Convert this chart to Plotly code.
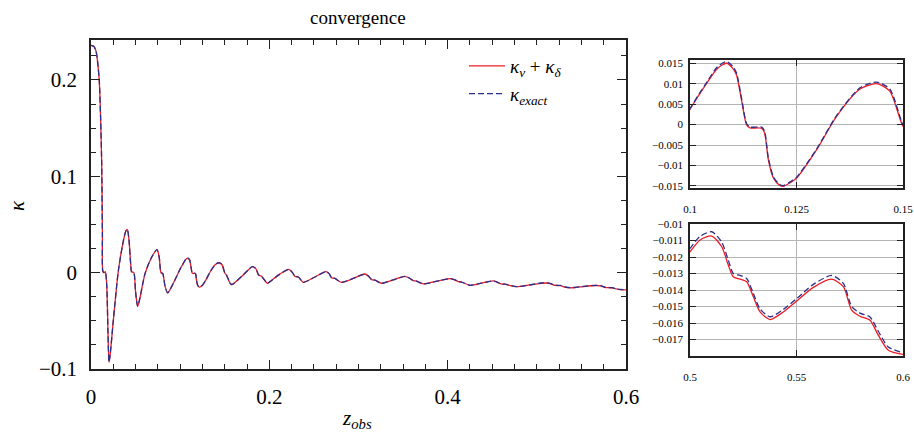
import plotly.graph_objects as go

# ---- data ----
z_obs = [
    0.000, 0.003, 0.0056, 0.0075, 0.0093, 0.0108, 0.012, 0.0128, 0.0132, 0.0145,
    0.0160, 0.0176, 0.0190, 0.0202, 0.0215, 0.025, 0.0307, 0.0363, 0.0390, 0.0407,
    0.0425, 0.0445, 0.0455, 0.0480, 0.0500, 0.0523, 0.0545, 0.0606, 0.0680, 0.0740,
    0.0765, 0.0785, 0.0805, 0.0830, 0.0860, 0.0890, 0.0960, 0.1000, 0.1039, 0.1065,
    0.1086, 0.1100, 0.1109, 0.1121, 0.1133, 0.1141, 0.1168, 0.1175, 0.1184, 0.1196,
    0.1210, 0.1219, 0.1235, 0.1250, 0.1297, 0.1344, 0.1399, 0.1438, 0.1469, 0.1500,
    0.1520, 0.1560, 0.1580, 0.1700, 0.1810, 0.1850, 0.1880, 0.1910, 0.1977, 0.2007,
    0.2110, 0.2220, 0.2260, 0.2288, 0.2325, 0.2380, 0.2500, 0.2635, 0.2670, 0.2700,
    0.2736, 0.2810, 0.2940, 0.3070, 0.3110, 0.3148, 0.3185, 0.3260, 0.3390, 0.3520,
    0.3570, 0.3615, 0.3650, 0.3727, 0.3870, 0.4026, 0.4080, 0.4120, 0.4157, 0.4250,
    0.4380, 0.4512, 0.4560, 0.4600, 0.4640, 0.4774, 0.4900, 0.5000, 0.5047, 0.5102,
    0.5149, 0.5180, 0.5203, 0.5235, 0.5266, 0.5297, 0.5329, 0.5376, 0.5438, 0.5501,
    0.5579, 0.5665, 0.5720, 0.5759, 0.5798, 0.5845, 0.5884, 0.5931, 0.6000,
]

kappa_sum = [
    0.236, 0.235, 0.230, 0.218, 0.199, 0.160, 0.113, 0.040, 0.002, 0.000,
    0.001, -0.012, -0.060, -0.093, -0.085, -0.050, 0.002, 0.033, 0.043, 0.045,
    0.035, 0.009, 0.001, 0.000, -0.020, -0.035, -0.028, -0.001, 0.016, 0.024,
    0.016, 0.000, -0.001, -0.014, -0.021, -0.017, -0.004, 0.00375, 0.0101, 0.0138,
    0.0150, 0.0138, 0.0122, 0.0060, -0.0001, -0.0008, -0.0009, -0.0020, -0.0086, -0.0131,
    -0.0148, -0.0151, -0.0142, -0.0131, -0.0062, 0.0020, 0.0087, 0.0100, 0.0082, -0.0004,
    -0.0025, -0.0110, -0.0124, -0.0030, 0.0062, 0.0040, -0.0025, -0.0035, -0.0110, -0.0093,
    -0.0020, 0.0034, 0.0000, -0.0040, -0.0045, -0.0100, -0.0050, 0.0010, -0.0010, -0.0055,
    -0.0060, -0.0100, -0.0060, -0.0014, -0.0035, -0.0073, -0.0078, -0.0110, -0.0075, -0.0038,
    -0.0055, -0.0083, -0.0088, -0.0117, -0.0090, -0.0062, -0.0075, -0.0093, -0.0097, -0.0131,
    -0.0108, -0.0086, -0.0100, -0.0117, -0.0120, -0.0145, -0.0130, -0.01168, -0.01097, -0.01073,
    -0.01138, -0.0125, -0.0132, -0.01334, -0.0135, -0.0144, -0.01533, -0.01579, -0.01533, -0.01466,
    -0.01384, -0.01334, -0.0138, -0.01522, -0.01559, -0.01583, -0.01674, -0.01765, -0.0179,
]

kappa_exact = [
    0.236, 0.235, 0.230, 0.218, 0.199, 0.160, 0.113, 0.040, 0.002, 0.000,
    0.001, -0.012, -0.060, -0.093, -0.085, -0.050, 0.002, 0.033, 0.043, 0.045,
    0.035, 0.009, 0.001, 0.000, -0.020, -0.035, -0.028, -0.001, 0.016, 0.024,
    0.016, 0.000, -0.001, -0.014, -0.021, -0.017, -0.004, 0.0039, 0.0103, 0.0142,
    0.0154, 0.0143, 0.0127, 0.0064, 0.0002, -0.0006, -0.0006, -0.0016, -0.0082, -0.0128,
    -0.0146, -0.0149, -0.0140, -0.0129, -0.0060, 0.0022, 0.0090, 0.0104, 0.0087, 0.0000,
    -0.0025, -0.0110, -0.0124, -0.0030, 0.0062, 0.0040, -0.0025, -0.0035, -0.0110, -0.0093,
    -0.0020, 0.0034, 0.0000, -0.0040, -0.0045, -0.0100, -0.0050, 0.0010, -0.0010, -0.0055,
    -0.0060, -0.0100, -0.0060, -0.0014, -0.0035, -0.0073, -0.0078, -0.0110, -0.0075, -0.0038,
    -0.0055, -0.0083, -0.0088, -0.0117, -0.0090, -0.0062, -0.0075, -0.0093, -0.0097, -0.0131,
    -0.0108, -0.0086, -0.0100, -0.0117, -0.0120, -0.0145, -0.0130, -0.01148, -0.01075, -0.01047,
    -0.01110, -0.0122, -0.0130, -0.01312, -0.0133, -0.0142, -0.01515, -0.01562, -0.01518, -0.01452,
    -0.01366, -0.01312, -0.0136, -0.01500, -0.01540, -0.01563, -0.01650, -0.01745, -0.0178,
]

main_xticks = [0, 0.2, 0.4, 0.6]
main_yticks = [-0.1, 0, 0.1, 0.2]
inset1_xticks = [0.1, 0.125, 0.15]
inset1_yticks = [-0.015, -0.01, -0.005, 0, 0.005, 0.01, 0.015]
inset1_ylabels = ["\u22120.015", "\u22120.01", "\u22120.005", "0", "0.005", "0.01", "0.015"]
inset2_xticks = [0.5, 0.55, 0.6]
inset2_yticks = [-0.017, -0.016, -0.015, -0.014, -0.013, -0.012, -0.011, -0.01]
inset2_ylabels = ["\u22120.017", "\u22120.016", "\u22120.015", "\u22120.014",
                  "\u22120.013", "\u22120.012", "\u22120.011", "\u22120.01"]

RED = "#ee1c25"
BLUE = "#2a2f8c"
FONT = "Liberation Serif, Times New Roman, DejaVu Serif, serif"
W, H = 914, 436

fig = go.Figure()

for ax, show in [("", True), ("2", False), ("3", False)]:
    fig.add_trace(go.Scatter(
        x=z_obs, y=kappa_sum, mode="lines", name="<i>κ<sub>v</sub></i> + <i>κ<sub>δ</sub></i>",
        line=dict(color=RED, width=1.3, shape="spline", smoothing=0.7),
        xaxis="x" + ax, yaxis="y" + ax, showlegend=show))
    fig.add_trace(go.Scatter(
        x=z_obs, y=kappa_exact, mode="lines", name="<i>κ<sub>exact</sub></i>",
        line=dict(color=BLUE, width=1.3, dash="6px,3px", shape="spline", smoothing=0.7),
        xaxis="x" + ax, yaxis="y" + ax, showlegend=show))

def px2x(p):
    return p / W

def py2y(p):
    return 1 - p / H

main_common = dict(showline=True, linecolor="#222", linewidth=1.5, mirror="allticks",
                   ticks="inside", ticklen=9, tickwidth=1.3, tickcolor="#222",
                   showgrid=False, zeroline=False, automargin=False,
                   tickfont=dict(family=FONT, size=21, color="black"),
                   minor=dict(ticks="inside", ticklen=5, tickwidth=1, tickcolor="#222",
                              dtick=0.025, showgrid=False))

inset_common = dict(showline=True, linecolor="#222", linewidth=1.5, mirror="allticks",
                    ticks="inside", ticklen=6, tickwidth=1.4, tickcolor="#222",
                    showgrid=True, gridcolor="#b4b4b4", gridwidth=1.2, zeroline=False,
                    automargin=False,
                    tickfont=dict(family=FONT, size=11, color="black"))

fig.update_layout(
    width=W, height=H, margin=dict(l=0, r=0, t=0, b=0, pad=0, autoexpand=False),
    paper_bgcolor="white", plot_bgcolor="white",
    font=dict(family=FONT, color="black"),
    xaxis=dict(domain=[px2x(91), px2x(626)], range=[0, 0.6], tickvals=main_xticks,
               ticktext=["0", "0.2", "0.4", "0.6"], ticklabelstandoff=8, anchor="y",
               **main_common),
    yaxis=dict(domain=[py2y(369), py2y(40)], range=[-0.1, 0.2415], tickvals=main_yticks,
               ticktext=["\u22120.1", "0", "0.1", "0.2"], ticklabelstandoff=8, anchor="x",
               **main_common),
    xaxis2=dict(domain=[px2x(690), px2x(903)], range=[0.1, 0.15], tickvals=inset1_xticks,
                ticktext=["0.1", "0.125", "0.15"], anchor="y2", ticklabelstandoff=10,
                **inset_common),
    yaxis2=dict(domain=[py2y(188), py2y(60)], range=[-0.0155, 0.0158], tickvals=inset1_yticks,
                ticktext=inset1_ylabels, anchor="x2", ticklabelstandoff=3,
                **inset_common),
    xaxis3=dict(domain=[px2x(690), px2x(903)], range=[0.5, 0.6], tickvals=inset2_xticks,
                ticktext=["0.5", "0.55", "0.6"], anchor="y3", ticklabelstandoff=10,
                **inset_common),
    yaxis3=dict(domain=[py2y(356), py2y(224)], range=[-0.018, -0.01], tickvals=inset2_yticks,
                ticktext=inset2_ylabels, anchor="x3", ticklabelstandoff=3,
                **inset_common),
    legend=dict(x=px2x(464), y=py2y(47), xanchor="left", yanchor="top",
                bgcolor="rgba(0,0,0,0)", font=dict(family=FONT, size=19, color="black"),
                itemwidth=36, tracegroupgap=0),
    annotations=[
        dict(text="convergence", x=px2x(358), y=py2y(17), xref="paper", yref="paper",
             xanchor="center", yanchor="middle",
             showarrow=False, font=dict(family=FONT, size=19, color="black")),
        dict(text="<i>z<sub>obs</sub></i>", x=px2x(357), y=py2y(419), xref="paper", yref="paper",
             xanchor="center", yanchor="middle",
             showarrow=False, font=dict(family=FONT, size=21, color="black")),
        dict(text="<i>κ</i>", x=px2x(17), y=py2y(206), xref="paper", yref="paper",
             xanchor="center", yanchor="middle",
             showarrow=False, textangle=-90, font=dict(family=FONT, size=21, color="black")),
    ],
)

fig.write_html("out.html")
